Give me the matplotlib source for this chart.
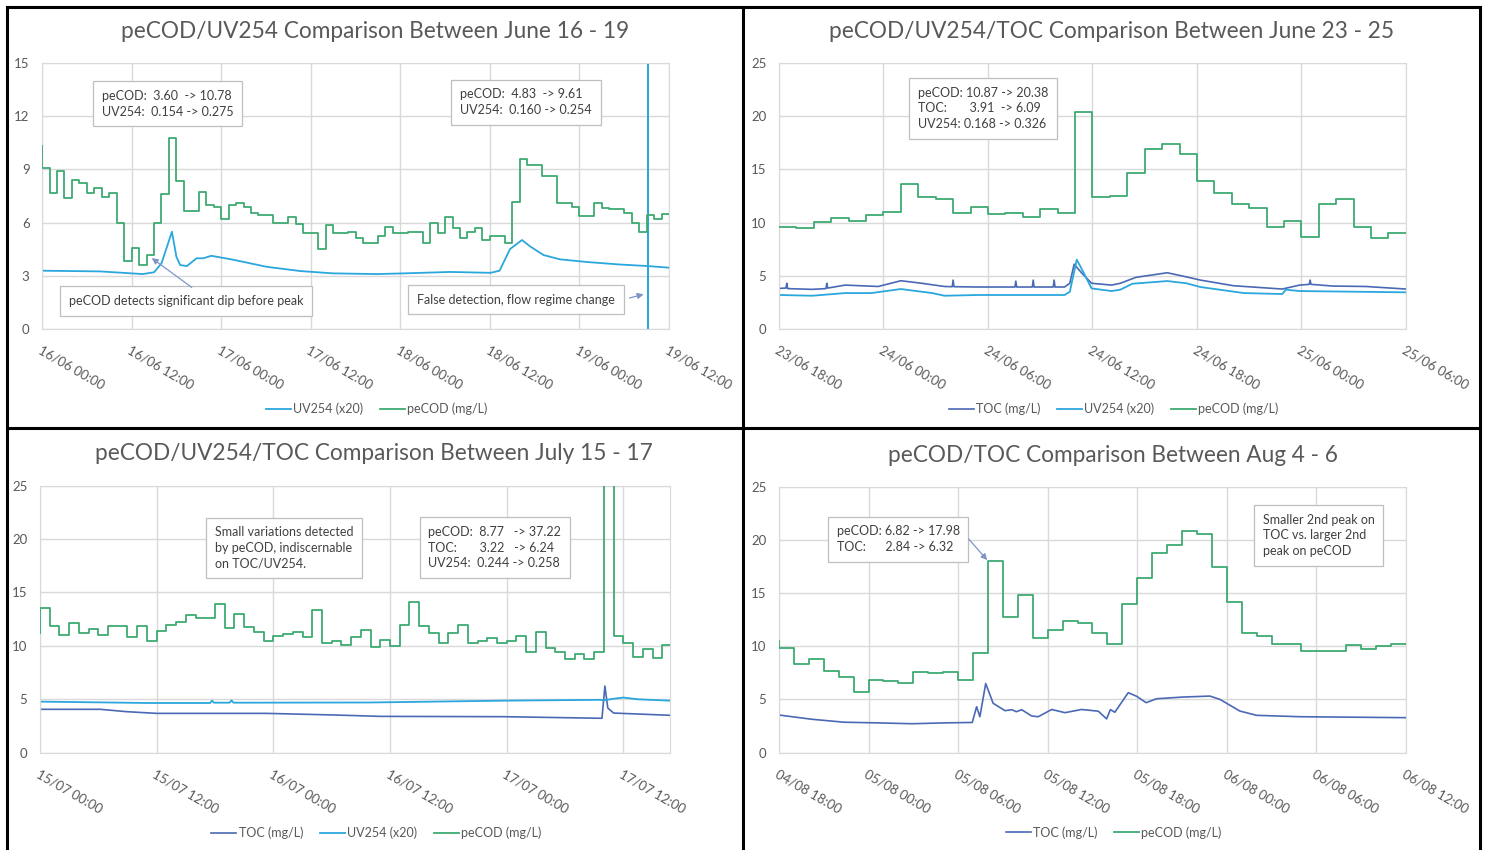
"""peCOD / UV254 / TOC comparison panels (four event windows)."""

import matplotlib
matplotlib.use("Agg")
import matplotlib.pyplot as plt
import numpy as np
from matplotlib.lines import Line2D

plt.rcParams["font.family"] = ["Lato", "DejaVu Sans"]

GREEN = "#3daa72"
LIGHT_BLUE = "#2aa7dc"
DARK_BLUE = "#4a69b5"
GRID = "#d9d9d9"
TEXT = "#595959"

# ---------------- panel 1: June 16 - 19 (hours from 16/06 00:00) ----------------
p1_ticks = ["16/06 00:00", "16/06 12:00", "17/06 00:00", "17/06 12:00",
            "18/06 00:00", "18/06 12:00", "19/06 00:00", "19/06 12:00"]
p1_pecod_first = 10.3
p1_pecod = [9.06, 7.69, 8.91, 7.37, 8.40, 8.25, 7.69, 7.97, 7.46, 7.65,
            5.96, 3.85, 4.55, 3.60, 4.17, 5.96, 7.60, 10.78, 8.35, 6.67,
            6.67, 7.74, 6.99, 6.90, 6.19, 6.99, 7.12, 6.90, 6.52, 6.43,
            6.43, 5.96, 5.96, 6.30, 5.92, 5.40, 5.40, 4.51, 5.86, 5.40,
            5.40, 5.49, 5.11, 4.83, 4.83, 5.25, 5.77, 5.43, 5.43, 5.49,
            5.49, 4.87, 5.96, 5.40, 6.30, 5.68, 5.11, 5.49, 5.71, 5.02,
            5.24, 5.24, 4.83, 7.18, 9.61, 9.25, 9.25, 8.63, 8.63, 7.09,
            7.09, 6.86, 6.37, 6.37, 7.09, 6.81, 6.75, 6.75, 6.52, 5.96,
            5.49, 6.43, 6.21, 6.47]
p1_uv_h = [0, 7.8, 13.5, 15.0, 16.0, 17.4, 18.0, 18.5, 19.4, 20.7, 21.6, 22.7,
           25.6, 30.1, 34.6, 39.0, 44.8, 48.5, 54.7, 60.1, 61.3, 62.7, 64.3,
           65.4, 67.2, 69.4, 73.0, 77.4, 81.2, 81.2, 81.2, 81.2, 84.0]
p1_uv = [3.29, 3.25, 3.10, 3.20, 3.70, 5.49, 4.08, 3.61, 3.55, 3.99, 3.99, 4.13,
         3.91, 3.51, 3.27, 3.14, 3.10, 3.14, 3.22, 3.17, 3.29, 4.51, 5.02,
         4.66, 4.17, 3.93, 3.78, 3.64, 3.55, 0.0, 16.0, 3.55, 3.46]

# ---------------- panel 2: June 23 - 25 (hours from 23/06 18:00) ----------------
p2_ticks = ["23/06 18:00", "24/06 00:00", "24/06 06:00", "24/06 12:00",
            "24/06 18:00", "25/06 00:00", "25/06 06:00"]
p2_pecod = [9.62, 9.46, 10.09, 10.46, 10.15, 10.71, 11.03, 13.60, 12.43, 12.19,
            10.87, 11.44, 10.81, 10.87, 10.56, 11.25, 10.87, 20.38, 12.43, 12.50,
            14.63, 16.89, 17.36, 16.45, 13.91, 12.81, 11.75, 11.34, 9.62, 10.18,
            8.68, 11.75, 12.19, 9.62, 8.58, 9.05]
p2_toc_h = [0, 0.4, 0.45, 0.5, 1.9, 2.7, 2.75, 2.8, 3.8, 5.7, 7.0, 8.2, 9.5,
            9.95, 10.0, 10.05, 11.4, 13.55, 13.6, 13.65, 14.55, 14.6, 14.65,
            15.75, 15.8, 15.85, 16.4, 16.7, 16.95, 17.4, 17.95, 19.1, 19.6,
            20.5, 22.3, 23.4, 24.2, 26.1, 28.9, 29.9, 30.45, 30.5, 30.55,
            31.8, 33.7, 36.0]
p2_toc = [3.82, 3.85, 4.30, 3.80, 3.73, 3.80, 4.30, 3.85, 4.13, 4.00, 4.54,
          4.30, 4.00, 3.98, 4.60, 3.98, 3.95, 3.95, 4.50, 3.95, 3.95, 4.60,
          3.95, 3.95, 4.60, 3.95, 3.95, 4.30, 6.09, 5.24, 4.30, 4.13, 4.30,
          4.86, 5.29, 4.90, 4.60, 4.07, 3.76, 4.13, 4.20, 4.60, 4.20, 4.04,
          4.00, 3.76]
p2_uv_h = [0, 1.9, 3.8, 5.3, 7.0, 8.8, 9.5, 11.4, 16.4, 16.7, 17.1, 17.4,
           17.95, 19.1, 19.6, 20.3, 22.3, 23.4, 24.2, 26.7, 28.9, 29.1, 29.9, 36.0]
p2_uv = [3.20, 3.13, 3.38, 3.38, 3.76, 3.38, 3.13, 3.20, 3.20, 3.50, 6.52, 5.60,
         3.82, 3.57, 3.70, 4.26, 4.51, 4.30, 3.95, 3.38, 3.29, 3.70, 3.57, 3.45]

# ---------------- panel 3: July 15 - 17 (hours from 15/07 00:00) ----------------
p3_ticks = ["15/07 00:00", "15/07 12:00", "16/07 00:00", "16/07 12:00",
            "17/07 00:00", "17/07 12:00"]
p3_end = 64.8
p3_pecod_first = 11.2
p3_pecod = [13.52, 11.86, 11.02, 12.17, 11.24, 11.58, 11.02, 11.86, 11.86, 10.80,
            11.86, 10.49, 11.42, 11.96, 12.27, 12.89, 12.64, 12.64, 13.92, 11.65,
            12.99, 11.80, 11.33, 10.46, 10.93, 11.11, 11.33, 10.80, 13.36, 10.24,
            10.49, 10.08, 10.80, 11.49, 9.85, 10.55, 9.99, 11.96, 14.08, 11.86,
            11.18, 10.24, 11.18, 11.96, 10.24, 10.46, 10.71, 10.30, 10.49, 10.90,
            9.46, 11.27, 9.77, 9.46, 8.74, 9.24, 8.77, 9.46, 37.22, 10.93,
            10.30, 8.93, 9.71, 8.83, 10.08]
p3_toc_h = [0, 6.2, 8.9, 12.0, 23.3, 30.2, 35.0, 47.7, 57.8, 58.1, 58.4, 59.0, 64.8]
p3_toc = [4.06, 4.06, 3.84, 3.68, 3.68, 3.53, 3.40, 3.37, 3.22, 6.24, 4.18, 3.71, 3.50]
p3_uv_h = [0, 11.3, 17.5, 17.7, 17.9, 19.5, 19.7, 19.9, 34.0, 47.7, 57.6,
           58.0, 59.0, 60.0, 61.5, 64.8]
p3_uv = [4.78, 4.65, 4.65, 4.87, 4.68, 4.68, 4.90, 4.68, 4.70, 4.87, 4.95,
         4.90, 5.05, 5.16, 5.00, 4.87]

# ---------------- panel 4: Aug 4 - 6 (hours from 04/08 18:00) ----------------
p4_ticks = ["04/08 18:00", "05/08 00:00", "05/08 06:00", "05/08 12:00",
            "05/08 18:00", "06/08 00:00", "06/08 06:00", "06/08 12:00"]
p4_pecod_first = 10.53
p4_pecod = [9.87, 8.31, 8.78, 7.68, 7.14, 5.68, 6.83, 6.74, 6.52, 7.55,
            7.46, 7.55, 6.82, 9.40, 17.98, 12.72, 14.79, 10.81, 11.53, 12.38,
            12.16, 11.28, 10.22, 13.95, 16.39, 18.74, 19.52, 20.83, 20.55, 17.42,
            14.13, 11.22, 11.00, 10.22, 10.22, 9.59, 9.59, 9.59, 10.12, 9.75,
            10.06, 10.18]
p4_toc_h = [0, 2.2, 4.4, 6.65, 8.9, 11.1, 12.95, 13.24, 13.46, 13.85, 14.35,
            15.14, 15.6, 15.9, 16.26, 16.93, 17.37, 18.27, 19.16, 20.27, 21.39,
            21.95, 22.2, 22.5, 23.4, 23.96, 24.6, 25.3, 27.08, 28.87, 29.54,
            30.88, 32.0, 34.9, 42.0]
p4_toc = [3.54, 3.14, 2.86, 2.80, 2.72, 2.80, 2.84, 4.32, 3.38, 6.50, 4.64,
          3.95, 4.04, 3.85, 4.04, 3.45, 3.38, 4.06, 3.76, 4.06, 3.90,
          3.18, 4.05, 3.80, 5.64, 5.30, 4.70, 5.07, 5.23, 5.32, 5.01,
          3.91, 3.51, 3.38, 3.29]


def step_pecod(ax, values, end, first=None):
    t = list(range(len(values))) + [end]
    v = list(values) + [values[-1]]
    if first is not None:
        t = [0] + t
        v = [first] + v
    ax.step(t, v, where="post", color=GREEN, lw=1.3, label="peCOD (mg/L)", zorder=3)


def style_axes(ax, ticks, step_h, xmax, ymax, ystep):
    ax.set_xlim(0, xmax)
    ax.set_ylim(0, ymax)
    ax.set_xticks(np.arange(len(ticks)) * step_h)
    ax.set_xticklabels(ticks)
    ax.set_yticks(np.arange(0, ymax + 0.1, ystep))
    ax.grid(True, color=GRID, lw=1.0)
    ax.set_axisbelow(True)
    for s in ax.spines.values():
        s.set_color(GRID)
    ax.tick_params(length=0, colors=TEXT, labelsize=9.5)
    ax.tick_params(axis="y", pad=9)
    ax.tick_params(axis="x", pad=11)
    for lab in ax.get_xticklabels():
        lab.set_rotation(-30)
        lab.set_ha("left")
        lab.set_va("top")
        lab.set_rotation_mode("anchor")


def note(ax, x, y, text):
    ax.text(x, y, text, transform=ax.transAxes, ha="center", va="center",
            multialignment="left", fontsize=9, color="#404040", linespacing=1.35,
            bbox=dict(boxstyle="square,pad=0.7", fc="white", ec="#bfbfbf", lw=0.9),
            zorder=5)


def arrow(ax, xy, xytext):
    ax.annotate("", xy=xy, xytext=xytext, zorder=6,
                arrowprops=dict(arrowstyle="-|>", color="#7f95c8", lw=0.9,
                                mutation_scale=9, shrinkA=0, shrinkB=0))


def legend(ax, order):
    handles, labels = ax.get_legend_handles_labels()
    lookup = dict(zip(labels, handles))
    ax.legend([lookup[k] for k in order], order, loc="center",
              bbox_to_anchor=(0.534, -0.30), ncol=len(order), frameon=False,
              fontsize=9, labelcolor=TEXT, handlelength=2.0, handletextpad=0.2,
              columnspacing=1.3)


fig = plt.figure(figsize=(14.86, 8.5), dpi=100)
ax1 = fig.add_axes([0.0283, 0.6129, 0.4219, 0.3129])
ax2 = fig.add_axes([0.5242, 0.6129, 0.4219, 0.3129])
ax3 = fig.add_axes([0.0269, 0.1145, 0.4240, 0.3141])
ax4 = fig.add_axes([0.5242, 0.1145, 0.4219, 0.3129])

# panel 1
ax1.plot(p1_uv_h, p1_uv, color=LIGHT_BLUE, lw=1.3, label="UV254 (x20)", zorder=2)
step_pecod(ax1, p1_pecod, 84, p1_pecod_first)
style_axes(ax1, p1_ticks, 12, 84, 15, 3)
note(ax1, 0.200, 0.847, "peCOD:  3.60  -> 10.78\nUV254:  0.154 -> 0.275")
note(ax1, 0.772, 0.853, "peCOD:  4.83  -> 9.61\nUV254:  0.160 -> 0.254")
note(ax1, 0.230, 0.106, "peCOD detects significant dip before peak")
note(ax1, 0.756, 0.111, "False detection, flow regime change")
arrow(ax1, (14.7, 4.0), (20.05, 2.35))
arrow(ax1, (80.6, 1.96), (78.7, 1.75))
legend(ax1, ["UV254 (x20)", "peCOD (mg/L)"])

# panel 2
ax2.plot(p2_toc_h, p2_toc, color=DARK_BLUE, lw=1.2, label="TOC (mg/L)", zorder=2)
ax2.plot(p2_uv_h, p2_uv, color=LIGHT_BLUE, lw=1.3, label="UV254 (x20)", zorder=2)
step_pecod(ax2, p2_pecod, 36)
style_axes(ax2, p2_ticks, 6, 36, 25, 5)
note(ax2, 0.325, 0.830, "peCOD: 10.87 -> 20.38\nTOC:       3.91  -> 6.09\nUV254: 0.168 -> 0.326")
legend(ax2, ["TOC (mg/L)", "UV254 (x20)", "peCOD (mg/L)"])

# panel 3
ax3.plot(p3_toc_h, p3_toc, color=DARK_BLUE, lw=1.2, label="TOC (mg/L)", zorder=2)
ax3.plot(p3_uv_h, p3_uv, color=LIGHT_BLUE, lw=1.3, label="UV254 (x20)", zorder=2)
step_pecod(ax3, p3_pecod, p3_end, p3_pecod_first)
style_axes(ax3, p3_ticks, 12, p3_end, 25, 5)
note(ax3, 0.387, 0.767, "Small variations detected\nby peCOD, indiscernable\non TOC/UV254.")
note(ax3, 0.722, 0.768, "peCOD:  8.77   -> 37.22\nTOC:       3.22   -> 6.24\nUV254:  0.244 -> 0.258")
legend(ax3, ["TOC (mg/L)", "UV254 (x20)", "peCOD (mg/L)"])

# panel 4
ax4.plot(p4_toc_h, p4_toc, color=DARK_BLUE, lw=1.2, label="TOC (mg/L)", zorder=2)
step_pecod(ax4, p4_pecod, 42, p4_pecod_first)
style_axes(ax4, p4_ticks, 6, 42, 25, 5)
note(ax4, 0.190, 0.803, "peCOD: 6.82 -> 17.98\nTOC:      2.84 -> 6.32")
note(ax4, 0.861, 0.817, "Smaller 2nd peak on\nTOC vs. larger 2nd\npeak on peCOD")
arrow(ax4, (13.95, 18.1), (12.7, 20.1))
legend(ax4, ["TOC (mg/L)", "peCOD (mg/L)"])

# titles
title_kw = dict(ha="center", va="center", fontsize=16.3, color=TEXT)
fig.text(375 / 1486, 1 - 32 / 850, "peCOD/UV254 Comparison Between June 16 - 19", **title_kw)
fig.text(1112 / 1486, 1 - 32 / 850, "peCOD/UV254/TOC Comparison Between June 23 - 25", **title_kw)
fig.text(374 / 1486, 1 - 454 / 850, "peCOD/UV254/TOC Comparison Between July 15 - 17", **title_kw)
fig.text(1113 / 1486, 1 - 456 / 850, "peCOD/TOC Comparison Between Aug 4 - 6", **title_kw)

# black frames around the four chart objects
frame_kw = dict(transform=fig.transFigure, color="black", lw=2.2)
fig.add_artist(Line2D([0.005, 0.005], [0, 0.992], **frame_kw))
fig.add_artist(Line2D([0.996, 0.996], [0, 0.992], **frame_kw))
fig.add_artist(Line2D([0.005, 0.996], [0.992, 0.992], **frame_kw))
fig.add_artist(Line2D([0.5, 0.5], [0, 0.992], **frame_kw))
fig.add_artist(Line2D([0.005, 0.996], [1 - 428 / 850, 1 - 428 / 850], **frame_kw))

fig.savefig("out.png", dpi=100, facecolor="white")
plt.close(fig)
